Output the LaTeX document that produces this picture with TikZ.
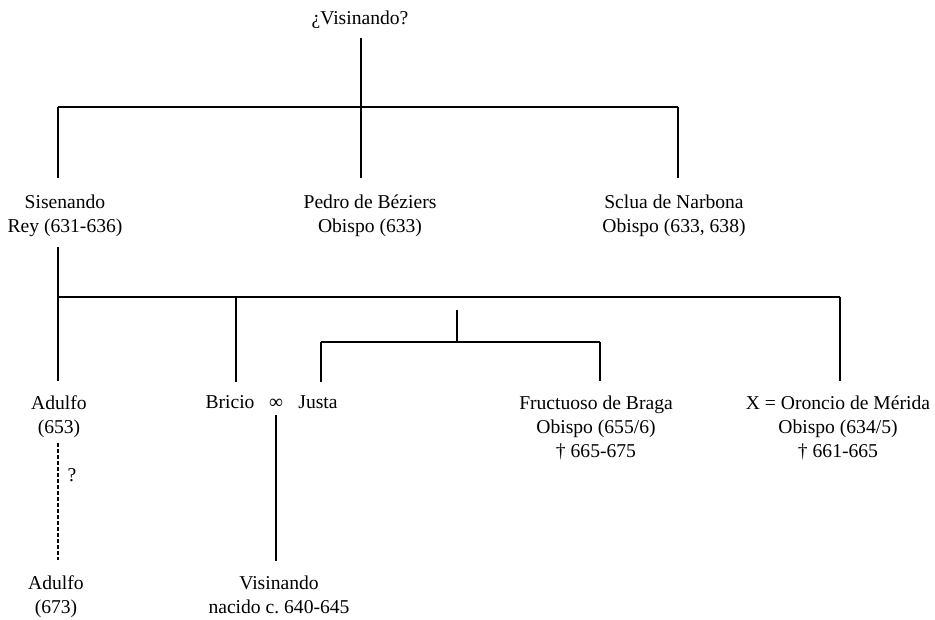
\documentclass[tikz,border=0pt]{standalone}
\usepackage{fontspec}
\setmainfont{Liberation Serif}
\usepackage{tikz}
\frenchspacing

\begin{document}
\begin{tikzpicture}[x=1pt,y=-1pt,line join=round,
    person/.style={align=center,inner sep=0pt,anchor=base,font=\fontsize{19.6}{24}\selectfont},
    tree/.style={line width=2pt},
    guess/.style={line width=2pt,dash pattern=on 4pt off 2pt}]
  \useasboundingbox (0,0) rectangle (935,620);
  % junctions of the bars
  \coordinate (J0) at (361,107);
  \coordinate (J1a) at (58,107);
  \coordinate (J1b) at (678,107);
  \coordinate (J2a) at (58,297);
  \coordinate (J2b) at (236,297);
  \coordinate (J2c) at (840,297);
  \coordinate (J3) at (457,310);
  \coordinate (J3a) at (321,342);
  \coordinate (J3b) at (600,342);
  % people (placed at the baseline of their last line)
  \node[person] (vis) at (360,25) {¿Visinando?};
  \node[person] (sis) at (65,233) {Sisenando\\Rey (631-636)};
  \node[person] (pedro) at (370,233) {Pedro de Béziers\\Obispo (633)};
  \node[person] (sclua) at (674,233) {Sclua de Narbona\\Obispo (633, 638)};
  \node[person] (adulfoA) at (59,433) {Adulfo\\(653)};
  \node[person] (bricio) at (230,409) {Bricio};
  \node[person] (inf) at (276,409) {∞};
  \node[person] (justa) at (318,409) {Justa};
  \node[person] (fruct) at (596,457) {Fructuoso de Braga\\Obispo (655/6)\\† 665-675};
  \node[person] (oron) at (838,457) {X = Oroncio de Mérida\\Obispo (634/5)\\† 661-665};
  \node[person] (adulfoB) at (56,613) {Adulfo\\(673)};
  \node[person] (visin) at (279,613) {Visinando\\nacido c. 640-645};
  \node[person] (q) at (72,481) {?};
  % first generation
  \draw[tree,shorten <=9pt] (J0 |- vis.south) -- (J0);
  \draw[tree] (J1a) -- (J1b);
  \draw[tree,shorten >=17pt] (J1a) -- (J1a |- sis.north);
  \draw[tree,shorten >=17pt] (J0) -- (J0 |- pedro.north);
  \draw[tree,shorten >=17pt] (J1b) -- (J1b |- sclua.north);
  % second generation
  \draw[tree,shorten <=10pt] (J2a |- sis.south) -- (J2a);
  \draw[tree] (J2a) -- (J2c);
  \draw[tree,shorten >=14pt] (J2a) -- (J2a |- adulfoA.north);
  \draw[tree,shorten >=14pt] (J2b) -- (J2b |- bricio.north);
  \draw[tree,shorten >=14pt] (J2c) -- (J2c |- oron.north);
  \draw[tree] (J3) -- (J3 |- J3a);
  \draw[tree] (J3a) -- (J3b);
  \draw[tree,shorten >=14pt] (J3a) -- (J3a |- justa.north);
  \draw[tree,shorten >=14pt] (J3b) -- (J3b |- fruct.north);
  % third generation
  \draw[guess,shorten <=6pt,shorten >=15pt] (J2a |- adulfoA.south) -- (J2a |- adulfoB.north);
  \draw[tree,shorten <=6pt,shorten >=14pt] (inf.south) -- (inf.south |- visin.north);
\end{tikzpicture}
\end{document}
